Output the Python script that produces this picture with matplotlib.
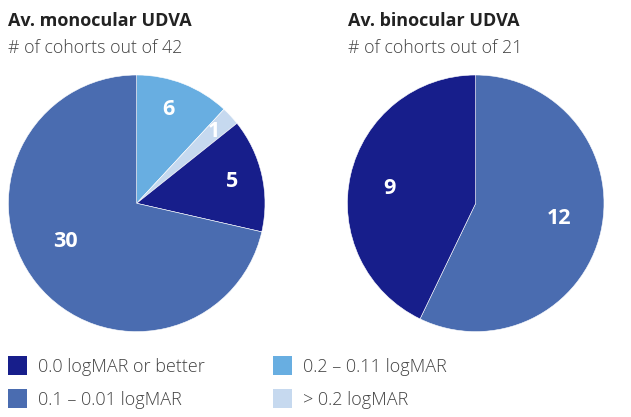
import matplotlib
matplotlib.use("Agg")
import matplotlib.pyplot as plt
from matplotlib.patches import Rectangle
import numpy as np

plt.rcParams['font.family'] = ['Open Sans', 'DejaVu Sans']

# Data (clockwise from 12 o'clock)
categories = ["0.0 logMAR or better", "0.1 – 0.01 logMAR", "0.2 – 0.11 logMAR", "> 0.2 logMAR"]
colors = {"0.0 logMAR or better": "#171e8b",
          "0.1 – 0.01 logMAR": "#4a6cb0",
          "0.2 – 0.11 logMAR": "#68aee1",
          "> 0.2 logMAR": "#c6d9ef"}

mono_cats = ["0.2 – 0.11 logMAR", "> 0.2 logMAR", "0.0 logMAR or better", "0.1 – 0.01 logMAR"]
mono_sizes = [5, 1, 6, 30]          # wedge sizes as drawn
mono_labels = ["6", "1", "5", "30"]  # printed labels
mono_total = 42

bino_cats = ["0.1 – 0.01 logMAR", "0.0 logMAR or better"]
bino_sizes = [12, 9]
bino_labels = ["12", "9"]
bino_total = 21

W, H = 631, 417
fig = plt.figure(figsize=(W / 100, H / 100), dpi=100)


def px_axes(cx, cy, r):
    return fig.add_axes([(cx - r) / W, 1 - (cy + r) / H, 2 * r / W, 2 * r / H])


def draw_pie(ax, sizes, cats, labels, label_pos):
    wedges, _ = ax.pie(sizes, colors=[colors[c] for c in cats], startangle=90,
                       counterclock=False, radius=1,
                       wedgeprops=dict(edgecolor='white', linewidth=0.4))
    for w, lab, (dang, rr) in zip(wedges, labels, label_pos):
        mid = np.deg2rad((w.theta1 + w.theta2) / 2 + dang)
        ax.text(rr * np.cos(mid), rr * np.sin(mid), lab, color='white',
                fontsize=15.5, fontweight='bold', ha='center', va='center')
    ax.set_xlim(-1, 1)
    ax.set_ylim(-1, 1)
    ax.set_aspect('equal')
    ax.axis('off')


ax1 = px_axes(136.7, 203.3, 128.3)
draw_pie(ax1, mono_sizes, mono_cats, mono_labels,
         [(2.5, 0.77), (0, 0.82), (0, 0.76), (-10, 0.63)])

ax2 = px_axes(475.7, 203.3, 128.3)
draw_pie(ax2, bino_sizes, bino_cats, bino_labels,
         [(2.5, 0.66), (3, 0.68)])

# Titles
def ftext(x, y, s, **kw):
    fig.text(x / W, 1 - y / H, s, va='baseline', ha='left', **kw)

ftext(8, 25.7, "Av. monocular UDVA", fontsize=13, fontweight='bold', color='#222222')
ftext(8, 53, f"# of cohorts out of {mono_total}", fontsize=12.8, fontweight='light', color='#444444')
ftext(348, 25.7, "Av. binocular UDVA", fontsize=13, fontweight='bold', color='#222222')
ftext(348, 53, f"# of cohorts out of {bino_total}", fontsize=12.8, fontweight='light', color='#444444')

# Legend
leg_pos = [(8.3, 356), (8.3, 389.3), (273.3, 356), (273.3, 389.3)]
for cat, (lx, ly) in zip(categories, leg_pos):
    fig.patches.append(Rectangle((lx / W, 1 - (ly + 18.5) / H), 18.4 / W, 18.5 / H,
                                 transform=fig.transFigure, facecolor=colors[cat],
                                 edgecolor='none'))
    ftext(lx + 30, ly + 15.8, cat, fontsize=13, fontweight='light', color='#444444')

fig.savefig("out.png", dpi=100)
